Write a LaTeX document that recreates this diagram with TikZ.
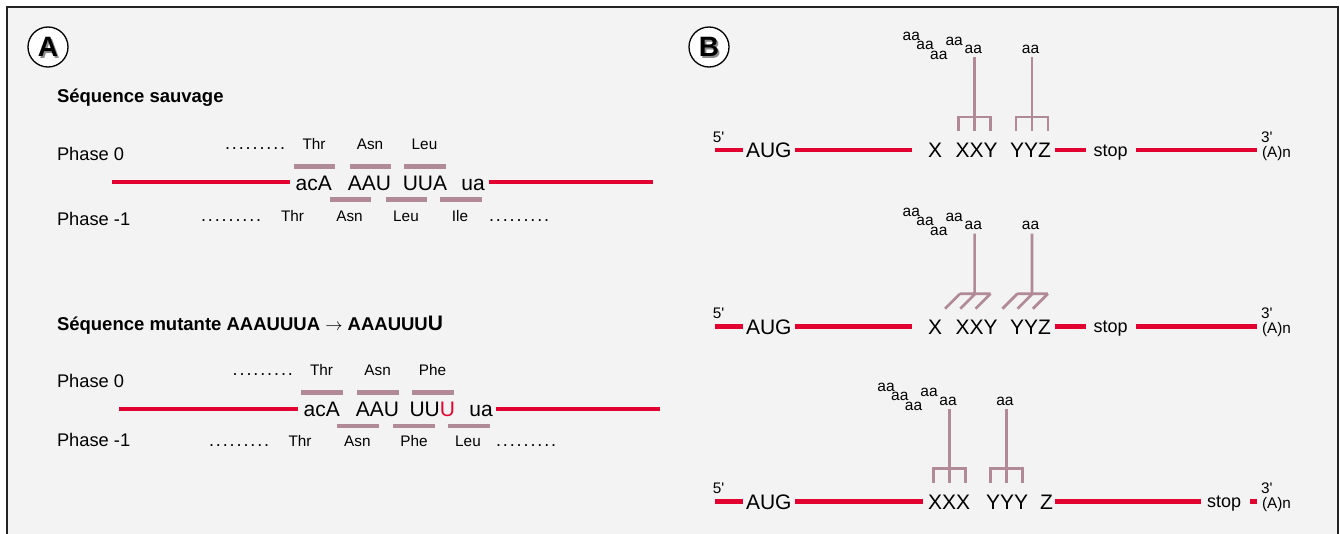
\documentclass[tikz,border=0pt]{standalone}
\usepackage{fontspec}
\setmainfont{Liberation Sans}
\definecolor{rna}{RGB}{226,0,48}
\definecolor{codon}{RGB}{176,138,150}
\definecolor{panelbg}{RGB}{243,243,243}
\definecolor{framecol}{RGB}{35,35,35}
\newcommand\fs[1]{\fontsize{#1}{#1}\selectfont}
\newcommand\dotrow{.\kern1.9pt.\kern1.9pt.\kern1.9pt.\kern1.9pt.\kern1.9pt.\kern1.9pt.\kern1.9pt.\kern1.9pt.}
\newcommand\prm{\textquotesingle}

\begin{document}
\begin{tikzpicture}[x=1pt,y=-1pt,
  every node/.style={inner sep=0pt,outer sep=0pt},
  lab/.style={anchor=base west,font=\fs{18.3}},
  ttl/.style={anchor=base west,font=\fs{18.5}\bfseries},
  seq/.style={anchor=base,font=\fs{21}},
  seqw/.style={anchor=base west,font=\fs{21}},
  amino/.style={anchor=base,font=\fs{15.3}},
  small/.style={anchor=base west,font=\fs{15.3}},
  stoplab/.style={anchor=base west,font=\fs{18}},
  aa/.style={font=\fs{15.5}},
  dotrowlab/.style={anchor=base west,font=\fs{18}},
  rnaline/.style={draw=rna,line width=4pt},
  rnalineB/.style={draw=rna,line width=4.5pt},
  codonbar/.style={draw=codon,line width=4.5pt},
  stem/.style={draw=codon,line width=2.7pt},
  badge/.style={circle,draw=black,line width=1.3pt,fill=white,minimum size=40pt},
  badgeletter/.style={font=\fs{28}\bfseries},
  badgeshadow/.style={font=\fs{28}\bfseries,text=black!45},
  fork/.pic={\draw[stem] (0,-93) -- (0,-19) (-16,-19) -- (-16,-33) -- (16,-33) -- (16,-19);},
  slantfork/.pic={\draw[stem] (0,-93) -- (0,-33) (-14.5,-33) -- (16,-33)
                    (-14.5,-33) -- (-29.5,-18) (0.7,-33) -- (-14.3,-18) (16,-33) -- (1,-18);},
  aastack/.pic={%
    \node[aa] (-a1) at (-63.3,-114) {aa};
    \node[aa] (-a2) at (-49.6,-105) {aa};
    \node[aa] (-a3) at (-35.8,-95) {aa};
    \node[aa] (-a4) at (-20.4,-109) {aa};
    \node[aa] (-a5) at (-1.3,-100.8) {aa};},
  aaone/.pic={\node[aa] (-a1) at (-1.3,-100.8) {aa};},
]
\useasboundingbox (0,0) rectangle (1340,533);
\fill[white] (0,0) rectangle (1340,533);
\draw[framecol,line width=2pt,fill=panelbg] (7,7) rectangle (1337.5,545);

% ---------------- Panel A ----------------
\node[badge] (badgeA) at (48,47) {};
\node[badgeshadow] (badgeAshadow) at (49.8,48.8) {A};
\node[badgeletter] (badgeAletter) at (48,47) {A};

% wild-type sequence
\node[ttl] (wtTitle) at (57,102) {Séquence sauvage};
\node[lab] (wtP0) at (57,160) {Phase 0};
\node[lab] (wtP1) at (57,225) {Phase -1};

\node[dotrowlab] (wtDots0) at (225,149) {\dotrow};
\node[amino] (wtT0) at (314,149) {Thr};
\node[amino] (wtA0) at (370,149) {Asn};
\node[amino] (wtL0) at (424.5,149) {Leu};

\draw[codonbar] (293.5,166.7) -- (334.5,166.7);
\draw[codonbar] (349.5,166.7) -- (391,166.7);
\draw[codonbar] (404,166.7) -- (445.5,166.7);

\node[seq] (wtC1) at (313.8,190) {acA};
\node[seq] (wtC2) at (369.5,190) {AAU};
\node[seq] (wtC3) at (425,190) {UUA};
\node[seq] (wtC4) at (473,190) {ua};
\draw[rnaline] (111.6,182.3) -- (290,182.3);
\draw[rnaline] (489,182.3) -- (652.7,182.3);

\draw[codonbar] (329.5,199.3) -- (371,199.3);
\draw[codonbar] (385.5,199.3) -- (427,199.3);
\draw[codonbar] (439.6,199.3) -- (481.5,199.3);

\node[dotrowlab] (wtDots1) at (201,221) {\dotrow};
\node[amino] (wtT1) at (292.5,221) {Thr};
\node[amino] (wtA1) at (349.5,221) {Asn};
\node[amino] (wtL1) at (406,221) {Leu};
\node[amino] (wtI1) at (460,221) {Ile};
\node[dotrowlab] (wtDots2) at (489,221) {\dotrow};

% mutant sequence
\node[ttl] (mtTitle) at (57,330) {Séquence mutante AAAUUUA \textmd{$\rightarrow$} AAAUUU{\fs{21}U}};
\node[lab] (mtP0) at (57,387.5) {Phase 0};
\node[lab] (mtP1) at (57,446.7) {Phase -1};

\node[dotrowlab] (mtDots0) at (232.7,375) {\dotrow};
\node[amino] (mtT0) at (321.5,375) {Thr};
\node[amino] (mtA0) at (377.6,375) {Asn};
\node[amino] (mtF0) at (432.5,375) {Phe};

\draw[codonbar] (301,392.7) -- (342.5,392.7);
\draw[codonbar] (357,392.7) -- (399,392.7);
\draw[codonbar] (411.6,392.7) -- (453.5,392.7);

\node[seq] (mtC1) at (321.8,416.7) {acA};
\node[seq] (mtC2) at (377.5,416.7) {AAU};
\node[seq] (mtC3) at (432.3,416.7) {UU\textcolor{rna}{U}};
\node[seq] (mtC4) at (481,416.7) {ua};
\draw[rnaline] (119,409) -- (298,409);
\draw[rnaline] (496,409) -- (660,409);

\draw[codonbar] (336.7,426) -- (379,426);
\draw[codonbar] (393,426) -- (435,426);
\draw[codonbar] (447.6,426) -- (489.5,426);

\node[dotrowlab] (mtDots1) at (209,446.7) {\dotrow};
\node[amino] (mtT1) at (300,446.7) {Thr};
\node[amino] (mtA1) at (357.4,446.7) {Asn};
\node[amino] (mtF1) at (414,446.7) {Phe};
\node[amino] (mtL1) at (468,446.7) {Leu};
\node[dotrowlab] (mtDots2) at (496,446.7) {\dotrow};

% ---------------- Panel B ----------------
\node[badge] (badgeB) at (709,47) {};
\node[badgeshadow] (badgeBshadow) at (710.8,48.8) {B};
\node[badgeletter] (badgeBletter) at (709,47) {B};

% row 1
\node[small] (r1five) at (712.8,142) {5\prm};
\draw[rnalineB] (715,150) -- (743,150);
\node[seqw] (r1aug) at (746,157.3) {AUG};
\draw[rnalineB] (795,150) -- (911.5,150);
\node[seqw] (r1x) at (928,157.3) {X};
\node[seqw] (r1xxy) at (955.7,157.3) {XXY};
\node[seqw] (r1yyz) at (1010,157.3) {YYZ};
\draw[rnalineB] (1054.6,150) -- (1086,150);
\node[stoplab] (r1stop) at (1093.7,156) {stop};
\draw[rnalineB] (1135.8,150) -- (1256.6,150);
\node[small] (r1three) at (1261,142) {3\prm};
\node[small] (r1polyA) at (1262,157) {(A)n};
\pic (r1f1) at (974.6,150) {fork};
\pic (r1s1) at (974.6,150) {aastack};
\pic (r1f2) at (1031.9,150) {fork};
\pic (r1s2) at (1031.9,150) {aaone};

% row 2
\node[small] (r2five) at (712.8,318.7) {5\prm};
\draw[rnalineB] (715,326.7) -- (743,326.7);
\node[seqw] (r2aug) at (746,334) {AUG};
\draw[rnalineB] (795,326.7) -- (911.5,326.7);
\node[seqw] (r2x) at (928,334) {X};
\node[seqw] (r2xxy) at (955.7,334) {XXY};
\node[seqw] (r2yyz) at (1010,334) {YYZ};
\draw[rnalineB] (1054.6,326.7) -- (1086,326.7);
\node[stoplab] (r2stop) at (1093.7,332.7) {stop};
\draw[rnalineB] (1135.8,326.7) -- (1256.6,326.7);
\node[small] (r2three) at (1261,318.7) {3\prm};
\node[small] (r2polyA) at (1262,333.7) {(A)n};
\pic (r2f1) at (974.6,326.7) {slantfork};
\pic (r2s1) at (974.6,326.7) {aastack};
\pic (r2f2) at (1031.9,326.7) {slantfork};
\pic (r2s2) at (1031.9,326.7) {aaone};

% row 3
\node[small] (r3five) at (712.8,493.7) {5\prm};
\draw[rnalineB] (715,501.7) -- (743,501.7);
\node[seqw] (r3aug) at (746,509) {AUG};
\draw[rnalineB] (795,501.7) -- (923.3,501.7);
\node[seqw] (r3xxx) at (928,509) {XXX};
\node[seqw] (r3yyy) at (986,509) {YYY};
\node[seqw] (r3z) at (1040,509) {Z};
\draw[rnalineB] (1054.6,501.7) -- (1200.6,501.7);
\node[stoplab] (r3stop) at (1207,507.7) {stop};
\draw[rnalineB] (1250,501.7) -- (1256.6,501.7);
\node[small] (r3three) at (1261,493.7) {3\prm};
\node[small] (r3polyA) at (1262,508.7) {(A)n};
\pic (r3f1) at (949.4,501.7) {fork};
\pic (r3s1) at (949.4,501.7) {aastack};
\pic (r3f2) at (1006.2,501.7) {fork};
\pic (r3s2) at (1006.2,501.7) {aaone};
\end{tikzpicture}
\end{document}
